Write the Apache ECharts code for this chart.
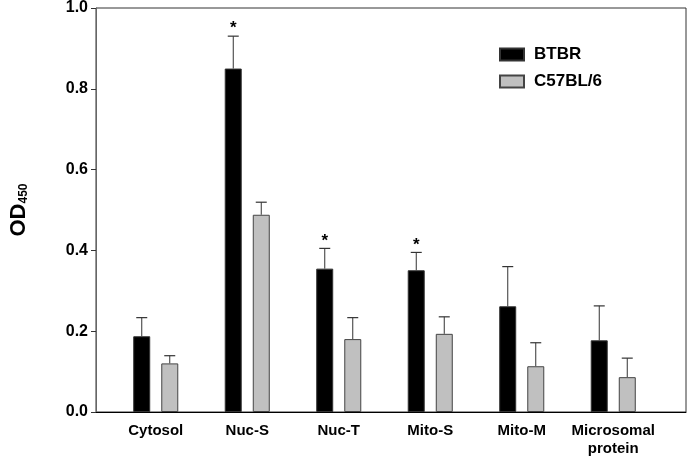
<!DOCTYPE html>
<html>
<head>
<meta charset="utf-8">
<script src="https://cdn.jsdelivr.net/npm/echarts@6/dist/echarts.min.js"></script>
<style>
  html, body { margin: 0; padding: 0; background: #fff; }
  #chart { width: 689px; height: 461px; }
</style>
</head>
<body>
<div id="chart"></div>
<script>
// ---- data ----
var categories = ['Cytosol', 'Nuc-S', 'Nuc-T', 'Mito-S', 'Mito-M', 'Microsomal\nprotein'];
var seriesNames = ['BTBR', 'C57BL/6'];
var btbrMean = [0.187, 0.848, 0.354, 0.350, 0.261, 0.177];
var btbrErr  = [0.046, 0.080, 0.050, 0.044, 0.098, 0.085];
var c57Mean  = [0.120, 0.487, 0.180, 0.193, 0.113, 0.086];
var c57Err   = [0.019, 0.031, 0.053, 0.042, 0.058, 0.047];
var btbrSig  = [false, true, true, true, false, false];
var yTicks   = [0.0, 0.2, 0.4, 0.6, 0.8, 1.0];

var FONT = '"Liberation Sans", Arial, Helvetica, sans-serif';
var BAR_W = 17, BAR_GAP_PX = 11;
var OFFSET = (BAR_W + BAR_GAP_PX) / 2;

function errData(mean, err, sig) {
  return mean.map(function (m, i) { return [i, m, m + err[i], sig ? (sig[i] ? 1 : 0) : 0]; });
}

function errRenderer(dir) {
  return function (params, api) {
    var i = api.value(0);
    var base = api.coord([i, api.value(1)]);
    var top = api.coord([i, api.value(2)]);
    var x = base[0] + dir * OFFSET;
    var children = [
      { type: 'line', shape: { x1: x, y1: base[1], x2: x, y2: top[1] },
        style: { stroke: '#333', lineWidth: 1 } },
      { type: 'line', shape: { x1: x - 5.5, y1: top[1], x2: x + 5.5, y2: top[1] },
        style: { stroke: '#333', lineWidth: 1.2 } }
    ];
    if (api.value(3) === 1) {
      children.push({ type: 'text', style: { x: x, y: top[1] + 1, text: '*',
        font: 'bold 17px ' + FONT, fill: '#000', textAlign: 'center', textVerticalAlign: 'bottom' } });
    }
    return { type: 'group', children: children };
  };
}

var chart = echarts.init(document.getElementById('chart'), null, { renderer: 'canvas' });
chart.setOption({
  animation: false,
  backgroundColor: '#fff',
  grid: [
    { left: 83, right: 3, top: 7, bottom: 49, show: true, borderColor: '#333', borderWidth: 1, backgroundColor: 'transparent' },
    { left: 110, right: 30, top: 7, bottom: 49 }
  ],
  legend: {
    orient: 'vertical', left: 494, top: 41,
    itemWidth: 24, itemHeight: 12, itemGap: 10,
    icon: 'rect',
    data: seriesNames,
    textStyle: { fontFamily: FONT, fontWeight: 'bold', fontSize: 17, color: '#000', padding: [0, 0, 0, 5] }
  },
  xAxis: [
    { gridIndex: 0, type: 'value', min: 0, max: 1,
      axisLine: { show: true, lineStyle: { color: '#000', width: 1 } },
      axisTick: { show: false }, axisLabel: { show: false }, splitLine: { show: false } },
    { gridIndex: 1, type: 'category', data: categories,
      axisLine: { show: false }, axisTick: { show: false },
      axisLabel: { interval: 0, fontFamily: FONT, fontWeight: 'bold', fontSize: 15, color: '#000', margin: 10, lineHeight: 18 } }
  ],
  yAxis: [
    { gridIndex: 0, type: 'value', min: 0, max: 1, interval: 0.2,
      name: '{a|OD}{b|450}', nameLocation: 'middle', nameGap: 66, nameRotate: 90,
      nameTextStyle: {
        rich: {
          a: { fontFamily: FONT, fontWeight: 'bold', fontSize: 22, color: '#000' },
          b: { fontFamily: FONT, fontWeight: 'bold', fontSize: 12, color: '#000', verticalAlign: 'bottom', padding: [8, 0, 0, 0] }
        }
      },
      axisLine: { show: true, lineStyle: { color: '#666', width: 1 } },
      axisTick: { show: true, inside: false, length: 5, lineStyle: { color: '#333' } },
      axisLabel: { fontFamily: FONT, fontWeight: 'bold', fontSize: 16, color: '#000', margin: 8,
        formatter: function (v) { return v.toFixed(1); } },
      splitLine: { show: false } },
    { gridIndex: 1, type: 'value', min: 0, max: 1, interval: 0.2, show: false }
  ],
  series: [
    { name: seriesNames[0], type: 'bar', xAxisIndex: 1, yAxisIndex: 1, data: btbrMean,
      barWidth: BAR_W, barGap: (BAR_GAP_PX / BAR_W * 100).toFixed(0) + '%',
      itemStyle: { color: '#000', borderColor: '#333', borderWidth: 1 } },
    { name: seriesNames[1], type: 'bar', xAxisIndex: 1, yAxisIndex: 1, data: c57Mean,
      barWidth: BAR_W,
      itemStyle: { color: '#c0c0c0', borderColor: '#444', borderWidth: 1 } },
    { type: 'custom', xAxisIndex: 1, yAxisIndex: 1, renderItem: errRenderer(-1),
      data: errData(btbrMean, btbrErr, btbrSig), z: 1 },
    { type: 'custom', xAxisIndex: 1, yAxisIndex: 1, renderItem: errRenderer(1),
      data: errData(c57Mean, c57Err, null), z: 1 }
  ]
});
</script>
</body>
</html>
